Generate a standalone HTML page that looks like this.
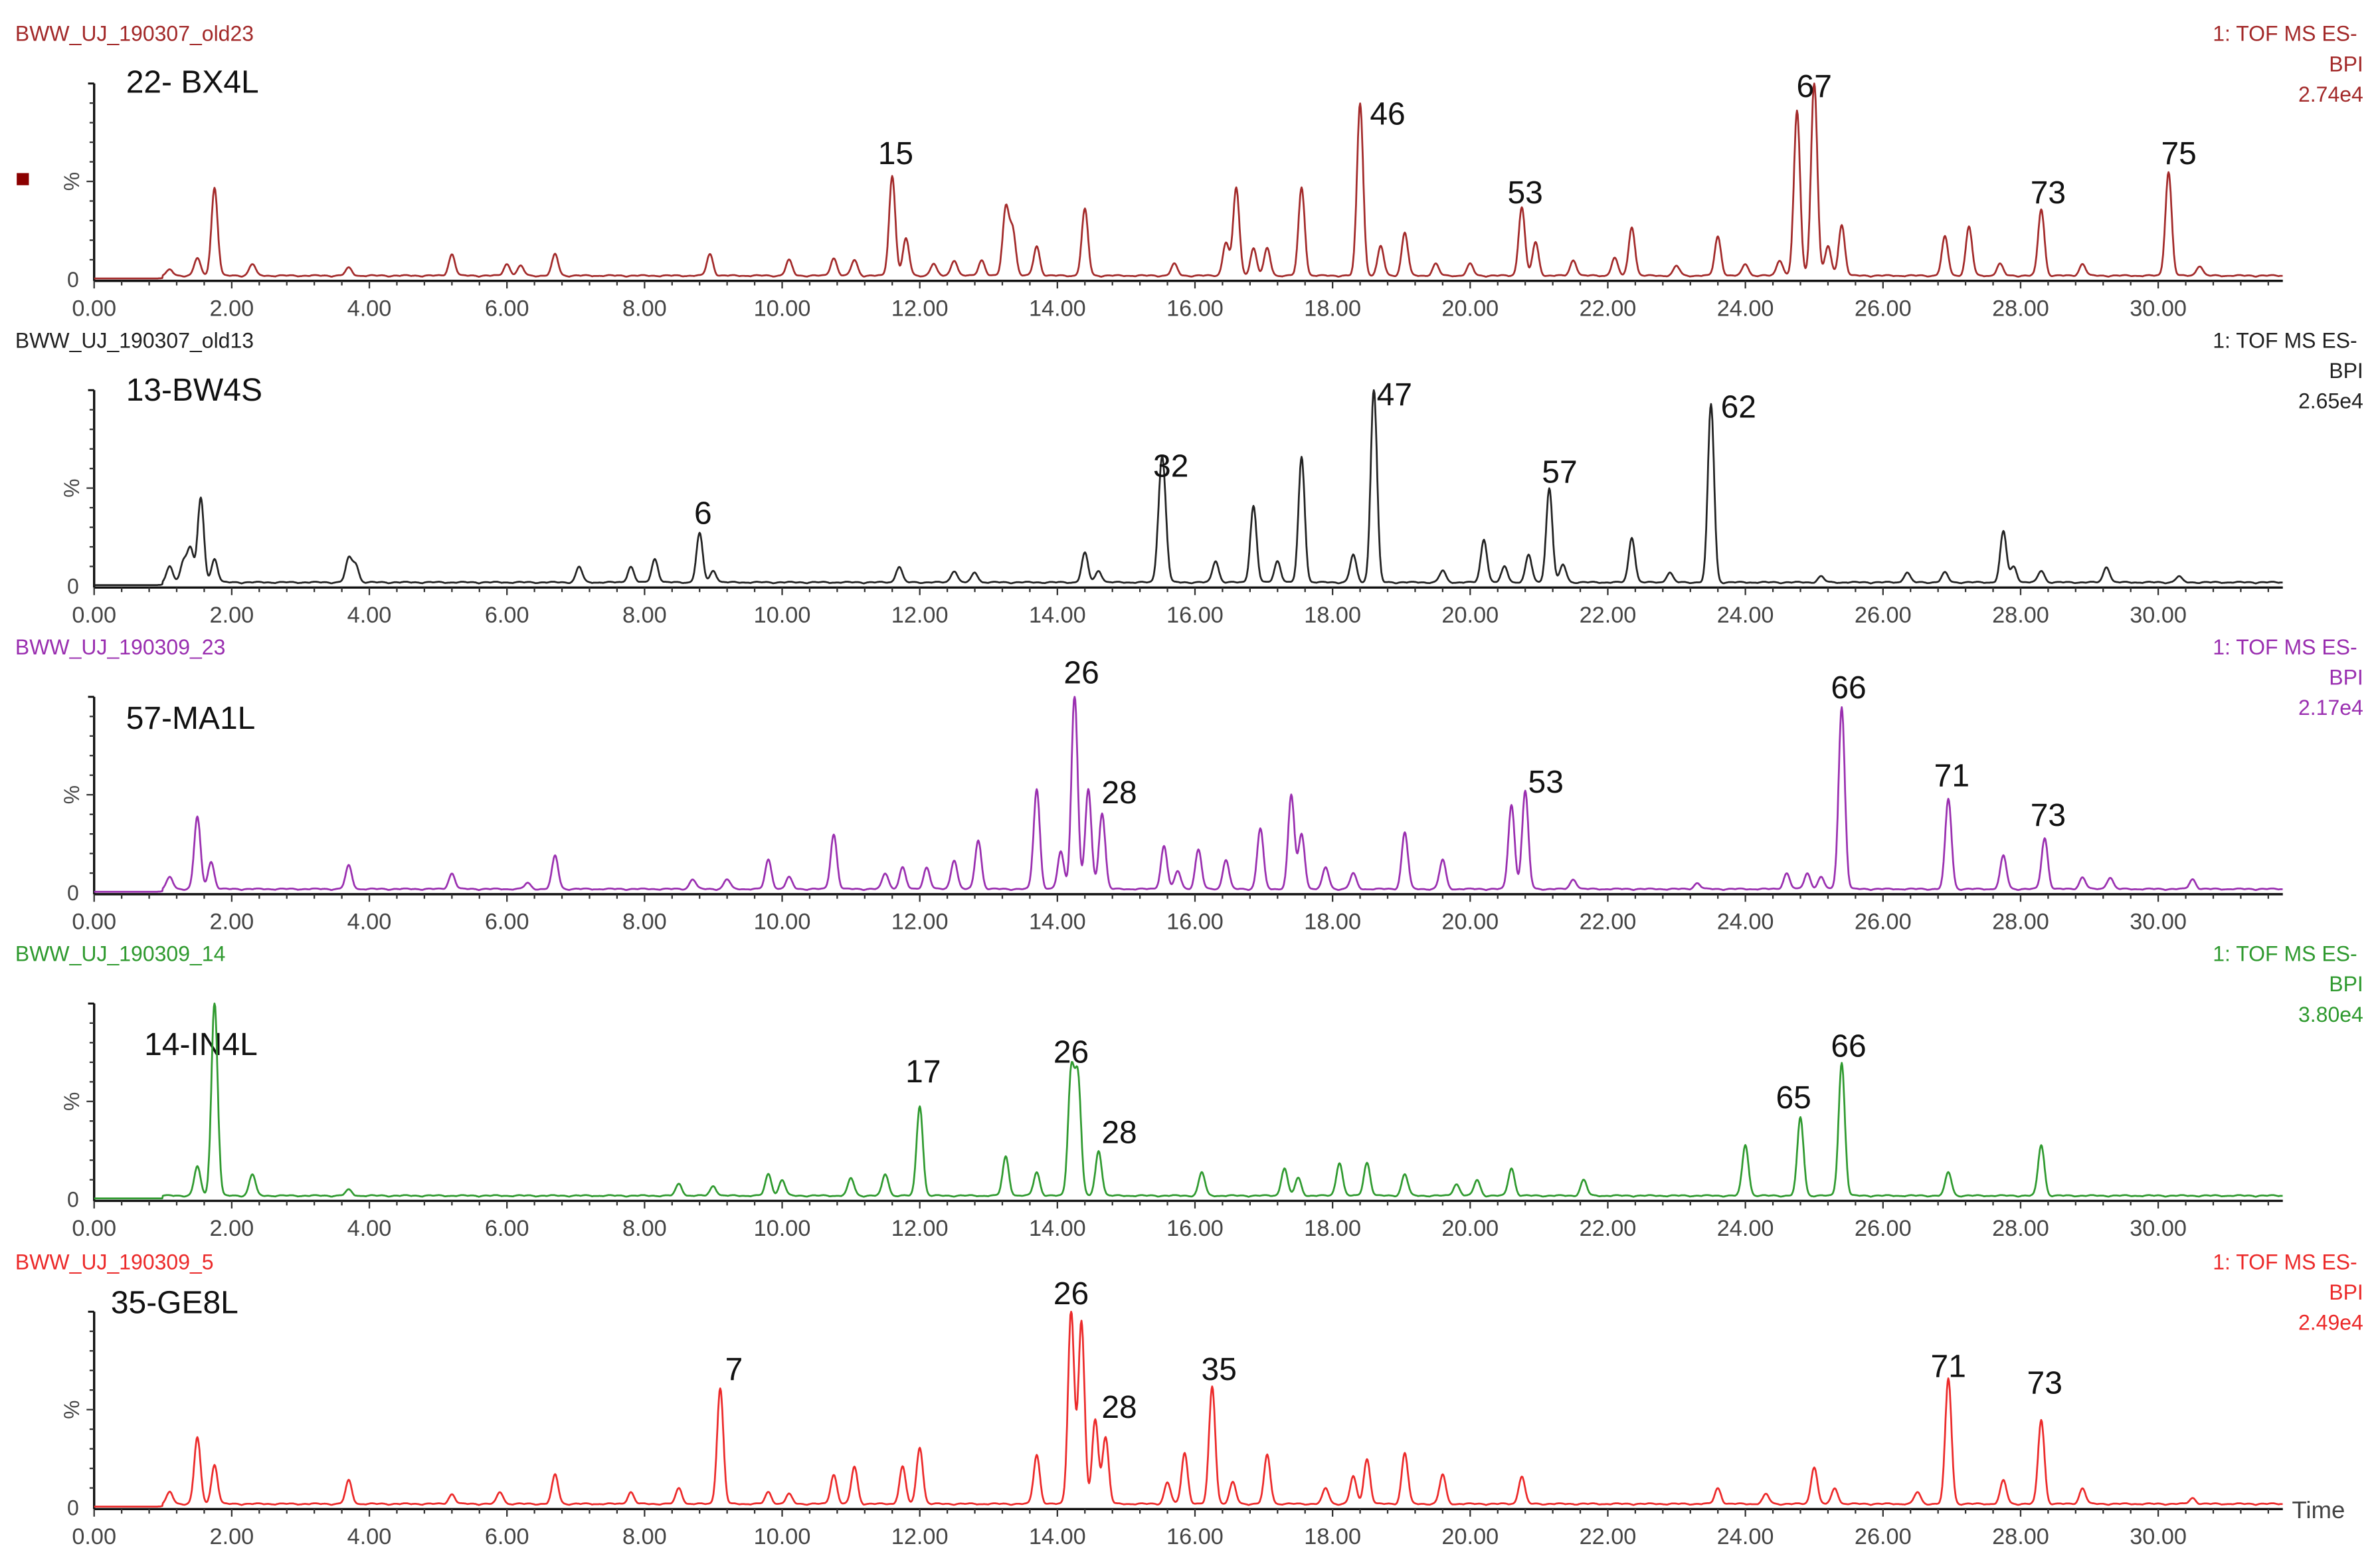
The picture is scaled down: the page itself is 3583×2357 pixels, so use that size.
<!DOCTYPE html>
<html><head><meta charset="utf-8">
<style>
html,body{margin:0;padding:0;background:#fff;}
svg{display:block;}
text{font-family:"Liberation Sans",sans-serif;}
.lbl{font-family:"Liberation Sans",sans-serif;font-size:21px;fill:#111;}
.tick{font-size:15px;fill:#444;}
</style></head>
<body>
<svg id="chart" width="3583" height="2357" viewBox="0 0 1568 1031.5" xmlns="http://www.w3.org/2000/svg"></svg>
<script>
// ---- data ----
const panelNames = ["22- BX4L","13-BW4S","57-MA1L","14-IN4L","35-GE8L"];
const fileNames = ["BWW_UJ_190307_old23","BWW_UJ_190307_old13","BWW_UJ_190309_23","BWW_UJ_190309_14","BWW_UJ_190309_5"];
const intensities = ["2.74e4","2.65e4","2.17e4","3.80e4","2.49e4"];
const colors = ["#a32a2a","#222222","#9a2fb0","#2f9a2f","#ec2a2a"];
const tickLabels = ["0.00","2.00","4.00","6.00","8.00","10.00","12.00","14.00","16.00","18.00","20.00","22.00","24.00","26.00","28.00","30.00"];
// peaks: [time(min), relative height %]
const peaks1 = [[1.1,3],[1.5,9],[1.75,45],[2.3,6],[3.7,4],[5.2,11],[6.0,6],[6.2,5],[6.7,11],[8.95,11],[10.1,8],[10.75,9],[11.05,8],[11.6,51],[11.8,19],[12.2,6],[12.5,8],[12.9,8],[13.25,34],[13.35,23],[13.7,15],[14.4,34],[15.7,6],[16.45,17],[16.6,45],[16.85,14],[17.05,14],[17.55,45],[18.4,88],[18.7,15],[19.05,22],[19.5,6],[20.0,6],[20.75,35],[20.95,17],[21.5,8],[22.1,9],[22.35,25],[23.0,5],[23.6,20],[24.0,6],[24.5,8],[24.75,84],[25.0,99],[25.2,15],[25.4,26],[26.9,20],[27.25,25],[27.7,6],[28.3,34],[28.9,6],[30.15,53],[30.6,5]];
const peaks2 = [[1.1,8],[1.3,11],[1.4,17],[1.55,43],[1.75,12],[3.7,12],[3.8,9],[7.05,8],[7.8,8],[8.15,12],[8.8,25],[9.0,6],[11.7,8],[12.5,6],[12.8,5],[14.4,15],[14.6,6],[15.5,40],[15.55,35],[16.3,11],[16.85,39],[17.2,11],[17.55,64],[18.3,14],[18.6,99],[19.6,6],[20.2,22],[20.5,8],[20.85,14],[21.15,48],[21.35,9],[22.35,23],[22.9,5],[23.5,91],[25.1,3],[26.35,5],[26.9,5],[27.75,26],[27.9,8],[28.3,6],[29.25,8],[30.3,3]];
const peaks3 = [[1.1,6],[1.5,37],[1.7,14],[3.7,12],[5.2,8],[6.3,3],[6.7,17],[8.7,5],[9.2,5],[9.8,15],[10.1,6],[10.75,28],[11.5,8],[11.75,11],[12.1,11],[12.5,15],[12.85,25],[13.7,51],[14.05,19],[14.25,99],[14.45,51],[14.65,39],[15.55,22],[15.75,9],[16.05,20],[16.45,15],[16.95,31],[17.4,48],[17.55,28],[17.9,11],[18.3,8],[19.05,29],[19.6,15],[20.6,43],[20.8,50],[21.5,5],[23.3,3],[24.6,8],[24.9,8],[25.1,6],[25.4,93],[26.95,46],[27.75,17],[28.35,26],[28.9,6],[29.3,6],[30.5,5]];
const peaks4 = [[1.5,15],[1.75,99],[2.3,11],[3.7,3],[8.5,6],[9.0,5],[9.8,11],[10.0,8],[11.0,9],[11.5,11],[12.0,46],[13.25,20],[13.7,12],[14.2,62],[14.3,59],[14.6,23],[16.1,12],[17.3,14],[17.5,9],[18.1,17],[18.5,17],[19.05,11],[19.8,6],[20.1,8],[20.6,14],[21.65,8],[24.0,26],[24.8,40],[25.4,68],[26.95,12],[28.3,26]];
const peaks5 = [[1.1,6],[1.5,34],[1.75,20],[3.7,12],[5.2,5],[5.9,6],[6.7,15],[7.8,6],[8.5,8],[9.1,59],[9.8,6],[10.1,5],[10.75,15],[11.05,19],[11.75,19],[12.0,29],[13.7,25],[14.2,99],[14.35,93],[14.55,43],[14.7,34],[15.6,11],[15.85,26],[16.25,60],[16.55,11],[17.05,25],[17.9,8],[18.3,14],[18.5,23],[19.05,26],[19.6,15],[20.75,14],[23.6,8],[24.3,5],[25.0,19],[25.3,8],[26.5,6],[26.95,64],[27.75,12],[28.3,43],[28.9,8],[30.5,3]];
const allPeaks = [peaks1,peaks2,peaks3,peaks4,peaks5];
// peak annotations: [label, time, y-offset above baseline (px)]
const ann1 = [["15",11.65,76],["46",18.8,102],["53",20.8,50],["67",25.0,120],["73",28.4,50],["75",30.3,76]];
const ann2 = [["6",8.85,41],["32",15.65,72],["47",18.9,119],["57",21.3,68],["62",23.9,111]];
const ann3 = [["26",14.35,138],["28",14.9,59],["53",21.1,66],["66",25.5,128],["71",27.0,70],["73",28.4,44]];
const ann4 = [["17",12.05,77],["26",14.2,90],["28",14.9,37],["65",24.7,60],["66",25.5,94]];
const ann5 = [["26",14.2,134],["7",9.3,84],["28",14.9,59],["35",16.35,84],["71",26.95,86],["73",28.35,75]];
const allAnn = [ann1,ann2,ann3,ann4,ann5];

// ---- layout ----
const NS="http://www.w3.org/2000/svg";
const svg=document.getElementById('chart');
const X0=62, PXMIN=45.33, XEND=1504, TMAX=(XEND-X0)/PXMIN;
const baselines=[184,386,588,790,993];
const FULL=129;
function xs(t){return X0+t*PXMIN;}
function mk(tag,attrs,parent){const e=document.createElementNS(NS,tag);for(const k in attrs)e.setAttribute(k,attrs[k]);(parent||svg).appendChild(e);return e;}

for(let p=0;p<5;p++){
  const b=baselines[p], col=colors[p];
  const g=mk('g',{});
  
  
  const fn=mk('text',{x:10,y:b-157,'font-size':14,fill:col},g);fn.textContent=fileNames[p];
  
  const r1=mk('text',{x:1553,y:b-157,'font-size':14,fill:col,'text-anchor':'end'},g);r1.textContent="1: TOF MS ES-";
  
  const r2=mk('text',{x:1557,y:b-137,'font-size':14,fill:col,'text-anchor':'end'},g);r2.textContent="BPI";
  
  const r3=mk('text',{x:1557,y:b-117,'font-size':14,fill:col,'text-anchor':'end'},g);r3.textContent=intensities[p];
  
  const nx=[83,83,83,95,73][p], ny=[61,-122,-108,-95,-128][p];
  const nm=mk('text',{x:nx,y:p==0?61:b+ny,'class':'lbl'},g);nm.textContent=panelNames[p];
  
  const ya=mk('g',{},g);
  
  mk('line',{x1:X0,y1:b-FULL,x2:X0,y2:b+1,stroke:'#111','stroke-width':1.5},ya);
  mk('line',{x1:X0-4,y1:b-FULL,x2:X0,y2:b-FULL,stroke:'#111','stroke-width':1.3},ya);
  for(let i=1;i<10;i++){const yy=b-FULL*i/10;mk('line',{x1:X0-(i==5?5:3),y1:yy,x2:X0,y2:yy,stroke:'#333','stroke-width':1},ya);}
  const pc=mk('text',{x:0,y:0,'font-size':14,fill:'#444',transform:`translate(52,${b-FULL/2}) rotate(-90)`,'text-anchor':'middle'},ya);pc.textContent="%";
  const z=mk('text',{x:52,y:b+5,'font-size':14,fill:'#444','text-anchor':'end'},ya);z.textContent="0";
  const xa=mk('g',{},g);
  
  mk('line',{x1:X0,y1:b+1,x2:XEND,y2:b+1,stroke:'#111','stroke-width':1.5},xa);
  for(let t=0;t<=TMAX+0.001;t+=0.4){const major=Math.abs(t/2-Math.round(t/2))<0.01;mk('line',{x1:xs(t),y1:b+1,x2:xs(t),y2:b+(major?6:4),stroke:'#333','stroke-width':1},xa);}
  tickLabels.forEach((lab,i)=>{const tt=mk('text',{x:xs(i*2),y:b+24,'class':'tick','text-anchor':'middle'},xa);tt.textContent=lab;
    });
  const pk=allPeaks[p];
  let d='';
  for(let t=0.0;t<=TMAX;t+=0.01){
    let v=0.5;
    if(t>1.0) v+=0.8+0.5*Math.abs(Math.sin(t*7.3))+0.4*Math.abs(Math.sin(t*19.1));
    for(const [pt,h] of pk){const s=0.045;v+=h*Math.exp(-((t-pt)*(t-pt))/(2*s*s));}
    const y=b-Math.min(v,100)*FULL/100;
    d+=(d?'L':'M')+xs(t).toFixed(1)+','+y.toFixed(1);
  }
  const path=mk('path',{d:d,fill:'none',stroke:col,'stroke-width':1.2,'stroke-linejoin':'round'},g);
  
  
  allAnn[p].forEach(a=>{const at=mk('text',{x:xs(a[1]),y:b-a[2],'class':'lbl','text-anchor':'middle'},g);at.textContent=a[0];
    });
}
const sq=mk('rect',{x:11,y:114,width:8,height:8,fill:'#8b0000'});


const tl=mk('text',{x:1510,y:1000,'font-size':16,fill:'#444'});tl.textContent="Time";


</script>
</body></html>
